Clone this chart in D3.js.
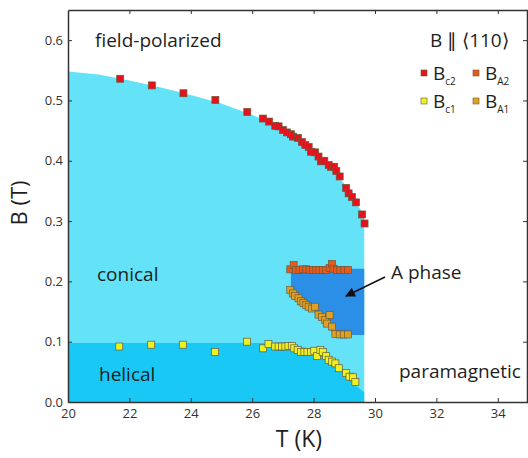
<!DOCTYPE html>
<meta charset="utf-8">
<style>
  body { margin: 0; background: #fff; }
  text { font-family: "Open Sans", sans-serif; fill: #1e1e1e; }
  .axis text { font-size: 13px; fill: #333; }
  .axis path, .axis line { stroke: #333; }
</style>
<body>
<script src="https://d3js.org/d3.v7.min.js"></script>
<script>

// ---- data ----
// upper critical field Bc2 (T in K, B in T)
var bc2T = [21.70, 22.73, 23.76, 24.80, 25.84, 26.35, 26.55, 26.75, 26.86, 27.00, 27.13, 27.26, 27.33, 27.49,
            27.62, 27.73, 27.84, 27.91, 28.05, 28.16, 28.24, 28.35, 28.49, 28.57, 28.67, 28.74, 28.85, 29.06,
            29.14, 29.25, 29.38, 29.58, 29.66];
var bc2B = [0.536, 0.525, 0.512, 0.501, 0.481, 0.470, 0.465, 0.458, 0.457, 0.451, 0.447, 0.444, 0.440, 0.438,
            0.431, 0.426, 0.423, 0.415, 0.414, 0.407, 0.399, 0.400, 0.393, 0.390, 0.390, 0.383, 0.374, 0.355,
            0.346, 0.340, 0.331, 0.311, 0.296];

// lower critical field Bc1
var bc1T = [21.67, 22.71, 23.74, 24.79, 25.83, 26.35, 26.53, 26.75, 26.86, 26.97, 27.08, 27.18, 27.29, 27.37,
            27.48, 27.59, 27.70, 27.80, 27.91, 28.02, 28.11, 28.22, 28.30, 28.41, 28.49, 28.60, 28.71, 28.82,
            29.06, 29.17, 29.28, 29.36];
var bc1B = [0.092, 0.095, 0.095, 0.083, 0.100, 0.089, 0.096, 0.092, 0.092, 0.092, 0.092, 0.093, 0.093, 0.089,
            0.086, 0.083, 0.083, 0.083, 0.083, 0.085, 0.076, 0.086, 0.083, 0.076, 0.070, 0.067, 0.064, 0.056,
            0.048, 0.042, 0.041, 0.033];

// upper A-phase boundary BA2
var ba2T = [27.24, 27.35, 27.43, 27.54, 27.65, 27.76, 27.87, 27.98, 28.09, 28.19, 28.30, 28.41, 28.52, 28.60,
            28.65, 28.76, 28.87, 29.00, 29.12];
var ba2B = [0.220, 0.227, 0.219, 0.219, 0.220, 0.220, 0.219, 0.219, 0.219, 0.219, 0.219, 0.219, 0.222, 0.229,
            0.221, 0.219, 0.219, 0.219, 0.219];

// lower A-phase boundary BA1
var ba1T = [27.24, 27.33, 27.40, 27.51, 27.59, 27.67, 27.76, 27.84, 27.95, 28.05, 28.16, 28.27, 28.38, 28.43,
            28.52, 28.60, 28.71, 28.85, 28.98, 29.12];
var ba1B = [0.186, 0.180, 0.176, 0.172, 0.167, 0.164, 0.161, 0.158, 0.155, 0.158, 0.145, 0.141, 0.136, 0.130,
            0.144, 0.125, 0.113, 0.112, 0.112, 0.112];

// phase region outlines
var orderedEdge = [[20, 0.548], [21, 0.543], [22, 0.533], [23, 0.522], [24, 0.509], [25, 0.495], [26, 0.476],
                   [26.5, 0.466], [27, 0.452], [27.5, 0.436], [28, 0.414], [28.5, 0.391], [29, 0.362],
                   [29.3, 0.336], [29.65, 0.31], [29.65, 0], [20, 0]];
var helicalEdge = [[20, 0.098], [27.0, 0.098], [27.5, 0.093], [28.0, 0.087], [28.4, 0.078], [28.7, 0.064],
                   [29.0, 0.048], [29.35, 0.028], [29.65, 0.016], [29.65, 0], [20, 0]];
var aPhaseEdge = [[27.26, 0.221], [29.65, 0.221], [29.65, 0.111], [28.65, 0.111], [28.4, 0.132],
                  [28.0, 0.153], [27.6, 0.166], [27.26, 0.186]];

var xTicks = [20, 22, 24, 26, 28, 30, 32, 34];
var yTicks = [0, 0.1, 0.2, 0.3, 0.4, 0.5, 0.6];

var series = [
  {name: "c2", T: bc2T, B: bc2B, color: "#e8101c"},
  {name: "c1", T: bc1T, B: bc1B, color: "#eef020"},
  {name: "A2", T: ba2T, B: ba2B, color: "#e85a1c"},
  {name: "A1", T: ba1T, B: ba1B, color: "#e0a024"}
];

// ---- layout ----
var W = 528, H = 458;
var x = d3.scaleLinear().domain([20, 35]).range([68, 528.5]);
var y = d3.scaleLinear().domain([0, 0.65]).range([402, 10]);

var svg = d3.select("body").append("svg")
    .attr("width", W)
    .attr("height", H);

var line = d3.line().x(function(d) { return x(d[0]); }).y(function(d) { return y(d[1]); });

svg.append("path").attr("d", line(orderedEdge) + "Z").attr("fill", "#64e2f8");
svg.append("path").attr("d", line(helicalEdge) + "Z").attr("fill", "#1ac8f6");
svg.append("path").attr("d", line(aPhaseEdge) + "Z").attr("fill", "#2b8fe8");

// axes with inward ticks
svg.append("g").attr("class", "axis")
    .attr("transform", "translate(0," + y(0) + ")")
    .call(d3.axisBottom(x).tickValues(xTicks).tickSizeInner(-4).tickSizeOuter(0).tickPadding(7));
svg.append("g").attr("class", "axis")
    .attr("transform", "translate(" + x(20) + ",0)")
    .call(d3.axisLeft(y).tickValues(yTicks).tickFormat(d3.format(".1f")).tickSizeInner(-4).tickSizeOuter(0).tickPadding(5));
svg.append("g").attr("class", "axis")
    .attr("transform", "translate(0," + y(0.65) + ")")
    .call(d3.axisTop(x).tickValues(xTicks.slice(1)).tickSizeInner(-4).tickSizeOuter(0).tickFormat(""));
svg.append("g").attr("class", "axis")
    .attr("transform", "translate(527,0)")
    .call(d3.axisRight(y).tickValues(yTicks.slice(1)).tickSizeInner(-4).tickSizeOuter(0).tickFormat(""));

svg.selectAll(".axis path").attr("stroke-width", 1.5);

// data markers
series.forEach(function(s) {
  svg.append("g").selectAll("rect")
      .data(s.T.map(function(t, i) { return [t, s.B[i]]; }))
    .enter().append("rect")
      .attr("x", function(d) { return x(d[0]) - 3.5; })
      .attr("y", function(d) { return y(d[1]) - 3.5; })
      .attr("width", 7)
      .attr("height", 7)
      .attr("fill", s.color)
      .attr("stroke", "#6a5a3a")
      .attr("stroke-width", 0.7);
});

// region labels
function label(txt, px, py, size, anchor) {
  return svg.append("text").attr("x", px).attr("y", py)
      .attr("text-anchor", anchor || "start")
      .style("font-size", size + "px").text(txt);
}
label("field-polarized", 95, 47, 19);
label("conical", 97, 281, 19);
label("helical", 99, 381, 19);
label("paramagnetic", 399, 378, 19);
label("A phase", 391, 279, 19);

// arrow to the A phase
svg.append("defs").append("marker")
    .attr("id", "head").attr("viewBox", "0 0 10 10")
    .attr("refX", 9).attr("refY", 5)
    .attr("markerWidth", 9).attr("markerHeight", 7)
    .attr("orient", "auto")
  .append("path").attr("d", "M0,0L10,5L0,10Z").attr("fill", "#111");
svg.append("line")
    .attr("x1", 385).attr("y1", 277).attr("x2", 346).attr("y2", 296)
    .attr("stroke", "#111").attr("stroke-width", 1.4)
    .attr("marker-end", "url(#head)");

// legend
label("B \u2225 \u27E8110\u27E9", 430, 47, 19);
var legendItems = [
  {s: series[0], px: 424, py: 73},
  {s: series[2], px: 476, py: 73},
  {s: series[1], px: 424, py: 101},
  {s: series[3], px: 476, py: 101}
];
legendItems.forEach(function(d) {
  svg.append("rect")
      .attr("x", d.px - 3).attr("y", d.py - 3)
      .attr("width", 6).attr("height", 6)
      .attr("fill", d.s.color).attr("stroke", "#6a5a3a").attr("stroke-width", 0.6);
  var t = svg.append("text").attr("x", d.px + 9).attr("y", d.py + 7).style("font-size", "19px");
  t.append("tspan").text("B");
  t.append("tspan").attr("dy", 5).style("font-size", "10px").text(d.s.name);
});

// axis titles
svg.append("text")
    .attr("transform", "translate(27," + y(0.33) + ") rotate(-90)")
    .attr("text-anchor", "middle")
    .style("font-size", "22px")
    .text("B (T)");
svg.append("text")
    .attr("x", 299).attr("y", 447)
    .attr("text-anchor", "middle")
    .style("font-size", "23px")
    .text("T (K)");

</script>
</body>
